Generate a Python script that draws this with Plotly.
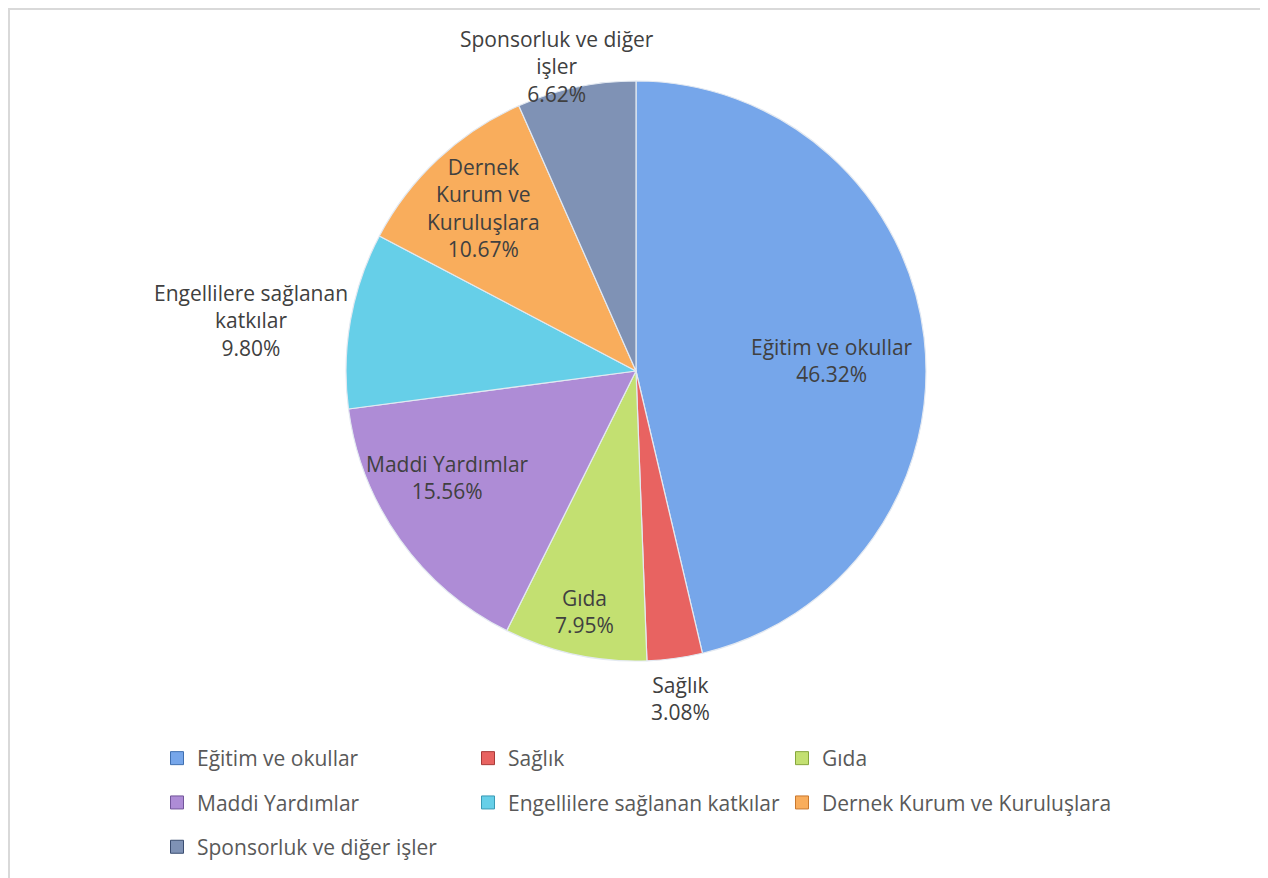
import math
import plotly.graph_objects as go

categories = ["Eğitim ve okullar", "Sağlık", "Gıda", "Maddi Yardımlar",
              "Engellilere sağlanan katkılar", "Dernek Kurum ve Kuruluşlara",
              "Sponsorluk ve diğer işler"]
wrapped_labels = ["Eğitim ve okullar", "Sağlık", "Gıda", "Maddi Yardımlar",
                  "Engellilere sağlanan<br>katkılar", "Dernek<br>Kurum ve<br>Kuruluşlara",
                  "Sponsorluk ve diğer<br>işler"]
shares = [46.32, 3.08, 7.95, 15.56, 9.80, 10.67, 6.62]
colors = ["#76a6ea", "#e86361", "#c3e071", "#ae8cd6", "#66cfe8", "#f9ad5c", "#7f92b5"]
edge_colors = ["#3f6fb0", "#a83a38", "#86a63c", "#72559a", "#3a9ab5", "#c9782e", "#3b4d70"]
legend_cols = ["legend", "legend2", "legend3", "legend", "legend2", "legend3", "legend"]

# label placement (style): distance from centre as a fraction of radius, plus small nudges
label_radius = [0.68, 1.14, 0.85, 0.75, 1.35, 0.77, 1.085]
label_nudge = [(0, -12), (0, 0), (0, 0), (-12, 20), (0, -18), (0, 0), (-14, -3)]

# page body has an 8px margin; work in figure coordinates
O = 8
W, H = 1260, 870
cx, cy, r = 636 - O, 371 - O, 290

fig = go.Figure()
fig.add_trace(go.Pie(
    labels=categories, values=shares,
    sort=False, direction="clockwise", rotation=0,
    marker=dict(colors=colors, line=dict(color="#e3e9f1", width=1.2)),
    textinfo="none",
    showlegend=False, hoverinfo="label+percent",
    domain=dict(x=[(cx - r) / W, (cx + r) / W], y=[(H - cy - r) / H, (H - cy + r) / H]),
))

# data labels at each slice's mid-angle (clockwise from 12 o'clock)
total = sum(shares)
annotations = []
cum = 0.0
for lab, v, rf, (dx, dy) in zip(wrapped_labels, shares, label_radius, label_nudge):
    mid = 2 * math.pi * (cum + v / 2) / total
    cum += v
    px = cx + rf * r * math.sin(mid)
    py = cy - rf * r * math.cos(mid)
    annotations.append(dict(
        x=px / W, y=1 - py / H, xref="paper", yref="paper",
        text=f"{lab}<br>{v:.2f}%", showarrow=False, align="center",
        xanchor="center", yanchor="middle", xshift=dx, yshift=dy,
        font=dict(family="Open Sans", size=21, color="#404040"),
    ))

for i, (name, c, ec, lg) in enumerate(zip(categories, colors, edge_colors, legend_cols)):
    fig.add_trace(go.Scatter(
        x=[None], y=[None], mode="markers", name=name, legend=lg, legendgroup=f"g{i}",
        marker=dict(symbol="square", size=13, color=c, line=dict(color=ec, width=1)),
        hoverinfo="skip",
    ))

legend_common = dict(orientation="v", xanchor="left", yanchor="top",
                     font=dict(family="Open Sans", size=21, color="#595959"),
                     tracegroupgap=14, bgcolor="rgba(0,0,0,0)", itemclick=False,
                     itemdoubleclick=False, traceorder="grouped")
ly = 1 - (738 - O) / H
fig.update_layout(
    width=W, height=H,
    margin=dict(l=0, r=0, t=0, b=0, autoexpand=False),
    paper_bgcolor="white", plot_bgcolor="white",
    xaxis=dict(visible=False), yaxis=dict(visible=False),
    legend=dict(x=(157 - O) / W, y=ly, **legend_common),
    legend2=dict(x=(468 - O) / W, y=ly, **legend_common),
    legend3=dict(x=(782 - O) / W, y=ly, **legend_common),
    annotations=annotations,
    shapes=[dict(type="rect", xref="paper", yref="paper",
                 x0=1 / W, x1=(1266 - O) / W, y0=-0.05, y1=1 - 1 / H,
                 line=dict(color="#d9d9d9", width=2), fillcolor="rgba(0,0,0,0)",
                 layer="below")],
)

fig.write_html("out.html")
